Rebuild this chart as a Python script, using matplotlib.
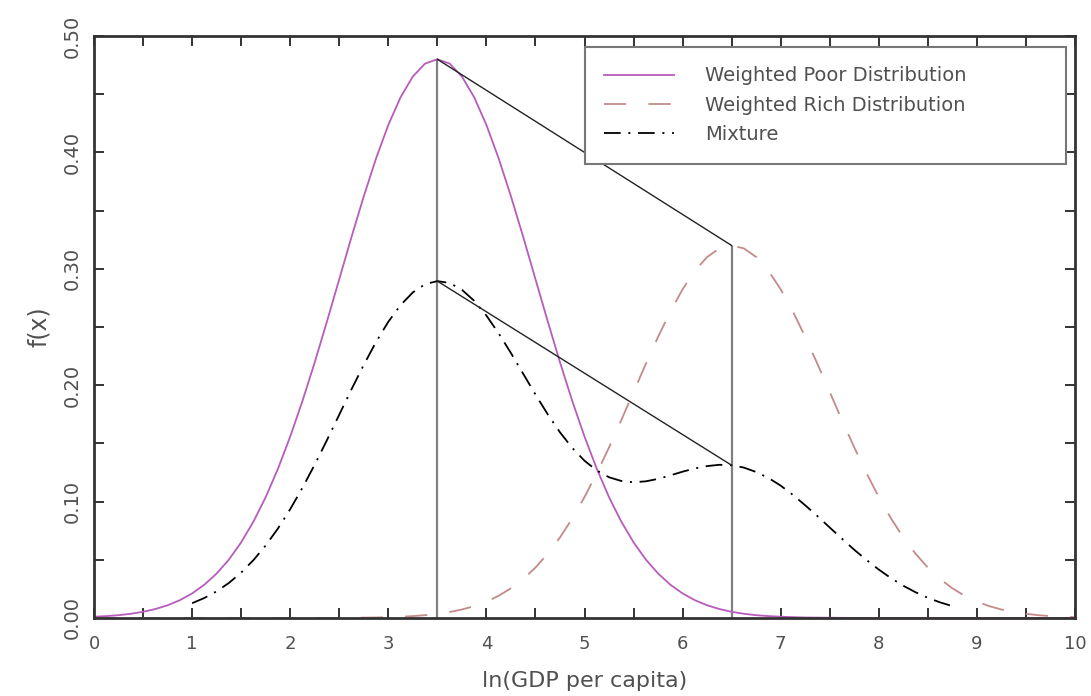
import numpy as np
import matplotlib.pyplot as plt
from matplotlib.ticker import MultipleLocator, FormatStrFormatter

plt.rcParams['font.family'] = ['DejaVu Sans']
plt.rcParams['lines.scale_dashes'] = False

x = np.linspace(0, 10, 81)
poor = [0.0011, 0.0016, 0.0024, 0.0036, 0.0053, 0.0077, 0.0109, 0.0153,
        0.0211, 0.0286, 0.0382, 0.0502, 0.0650, 0.0828, 0.1038, 0.1282,
        0.1559, 0.1865, 0.2197, 0.2549, 0.2911, 0.3274, 0.3623, 0.3948,
        0.4236, 0.4474, 0.4652, 0.4763, 0.4800, 0.4763, 0.4652, 0.4474,
        0.4236, 0.3948, 0.3623, 0.3274, 0.2911, 0.2549, 0.2197, 0.1865,
        0.1559, 0.1282, 0.1038, 0.0828, 0.0650, 0.0502, 0.0382, 0.0286,
        0.0211, 0.0153, 0.0109, 0.0077, 0.0053, 0.0036, 0.0024, 0.0016,
        0.0011, 0.0007, 0.0004, 0.0003, 0.0002, 0.0001,
        0.0, 0.0, 0.0, 0.0, 0.0, 0.0, 0.0, 0.0, 0.0, 0.0, 0.0, 0.0, 0.0,
        0.0, 0.0, 0.0, 0.0, 0.0, 0.0]
rich = [0.0, 0.0, 0.0, 0.0, 0.0, 0.0, 0.0, 0.0, 0.0, 0.0, 0.0, 0.0, 0.0,
        0.0, 0.0, 0.0, 0.0, 0.0, 0.0, 0.0, 0.0,
        0.0002, 0.0003, 0.0004, 0.0007, 0.0011, 0.0016, 0.0024, 0.0036,
        0.0051, 0.0073, 0.0102, 0.0140, 0.0191, 0.0255, 0.0335, 0.0433,
        0.0552, 0.0692, 0.0855, 0.1039, 0.1244, 0.1465, 0.1700, 0.1941,
        0.2182, 0.2415, 0.2632, 0.2824, 0.2983, 0.3101, 0.3175, 0.3200,
        0.3175, 0.3101, 0.2983, 0.2824, 0.2632, 0.2415, 0.2182, 0.1941,
        0.1700, 0.1465, 0.1244, 0.1039, 0.0855, 0.0692, 0.0552, 0.0433,
        0.0335, 0.0255, 0.0191, 0.0140, 0.0102, 0.0073, 0.0051, 0.0036,
        0.0024, 0.0016, 0.0011, 0.0007]
# mixture is only drawn from 1.0 to 8.75
mix_x = x[8:71]
mixture = [0.0127, 0.0172, 0.0229, 0.0301, 0.0390, 0.0497, 0.0623, 0.0769,
           0.0935, 0.1119, 0.1318, 0.1529, 0.1747, 0.1965, 0.2175, 0.2371,
           0.2545, 0.2688, 0.2797, 0.2868, 0.2894, 0.2878, 0.2820, 0.2725,
           0.2598, 0.2445, 0.2276, 0.2098, 0.1920, 0.1750, 0.1595, 0.1461,
           0.1351, 0.1267, 0.1209, 0.1177, 0.1166, 0.1174, 0.1195, 0.1225,
           0.1257, 0.1285, 0.1305, 0.1316, 0.1312, 0.1292, 0.1254, 0.1203,
           0.1137, 0.1057, 0.0968, 0.0875, 0.0777, 0.0681, 0.0586, 0.0498,
           0.0416, 0.0342, 0.0277, 0.0221, 0.0173, 0.0134, 0.0102]
peak_x = [3.5, 6.5]
labels = ['Weighted Poor Distribution', 'Weighted Rich Distribution', 'Mixture']

# heights at the two peaks, taken from the series
poor_top = poor[list(x).index(peak_x[0])]
rich_top = rich[list(x).index(peak_x[1])]
mix_tops = [mixture[list(mix_x).index(p)] for p in peak_x]

fig = plt.figure(figsize=(10.91, 6.96), dpi=100)
ax = fig.add_axes([0.0862, 0.1121, 0.8991, 0.8362])

txt = '#505050'
ax.vlines(peak_x, 0, [poor_top, rich_top], color='#808080', lw=1.6)
ax.plot(x, poor, color='#b85cbc', lw=1.3, label=labels[0])
ax.plot(x, rich, color='#c48a8a', lw=1.3, ls=(0, (16, 16)), label=labels[1])
ax.plot(mix_x, mixture, color='black', lw=1.3, ls=(0, (12, 5.5, 1.5, 5.5)),
        label=labels[2])
ax.plot(peak_x, [poor_top, rich_top], color='#222222', lw=1.0)
ax.plot(peak_x, mix_tops, color='#222222', lw=1.0)

ax.set_xlim(0, 10)
ax.set_ylim(0, 0.5)
ax.xaxis.set_major_locator(MultipleLocator(1))
ax.xaxis.set_minor_locator(MultipleLocator(0.5))
ax.yaxis.set_major_locator(MultipleLocator(0.1))
ax.yaxis.set_minor_locator(MultipleLocator(0.05))
ax.yaxis.set_major_formatter(FormatStrFormatter('%.2f'))
ax.tick_params(which='both', direction='in', top=True, right=True,
               length=7, width=1.4, color='#333333')
ax.tick_params(axis='x', labelsize=13, pad=12, labelcolor=txt)
ax.tick_params(axis='y', labelsize=14, pad=9, labelcolor=txt)
for lab in ax.get_yticklabels():
    lab.set_rotation(90)
    lab.set_va('center')
for sp in ax.spines.values():
    sp.set_linewidth(2)
    sp.set_color('#333333')

ax.set_xlabel('ln(GDP per capita)', fontsize=16, color=txt, labelpad=13)
ax.set_ylabel('f(x)', fontsize=17, color=txt, labelpad=8)

leg = ax.legend(loc='upper left', bbox_to_anchor=(0.500, 0.778, 0.491, 0.203),
                mode='expand', borderaxespad=0, fontsize=14, handlelength=3.6,
                handletextpad=1.6, labelspacing=0.53, borderpad=1.0,
                fancybox=False, framealpha=1, edgecolor='#777777')
leg.get_frame().set_linewidth(1.5)
for t in leg.get_texts():
    t.set_color(txt)

fig.savefig('out.png', dpi=100)
